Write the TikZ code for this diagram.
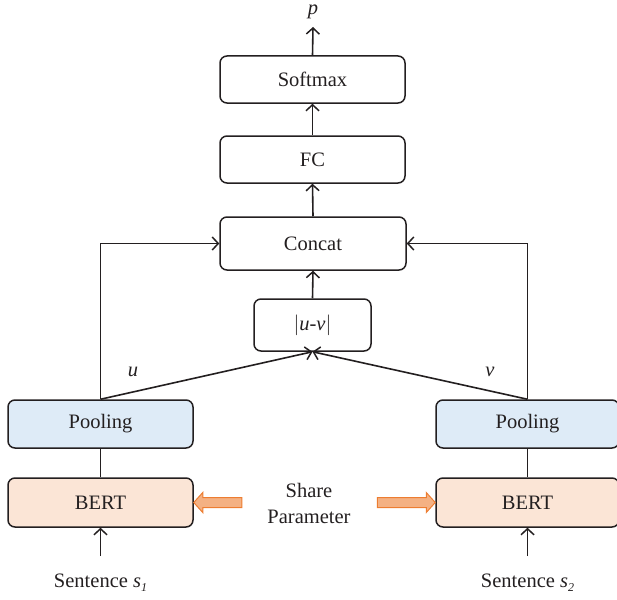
\documentclass[tikz,border=0pt]{standalone}
\usepackage{fontspec}
\setmainfont{Liberation Serif}
\usetikzlibrary{arrows.meta}
\definecolor{poolfill}{HTML}{DEEBF7}
\definecolor{bertfill}{HTML}{FBE5D6}
\definecolor{orfill}{HTML}{F4B183}
\definecolor{ordraw}{HTML}{ED7D31}
\definecolor{ink}{HTML}{231F20}
\tikzset{
  blk/.style={draw=ink, line width=1.5pt, rounded corners=7pt, inner sep=0pt, font=\fontsize{20.5}{22}\selectfont, text=ink},
  conn/.style={draw=ink, line width=1.6pt},
  arr/.style={conn, -{Straight Barb[length=6pt,width=13pt,line width=1.5pt]}},
  lbl/.style={font=\fontsize{20.5}{22}\selectfont, text=ink, inner sep=0pt},
  orarrow/.style={fill=orfill, draw=ordraw, line width=1pt, line join=miter}
}
\begin{document}
\begin{tikzpicture}[x=1pt,y=-1pt]
\useasboundingbox (0,0) rectangle (617,599);
\node[blk, minimum width=185pt, minimum height=47pt] (softmax) at (312.5,79.5) {Softmax};
\node[blk, minimum width=185pt, minimum height=47pt] (fc) at (312.5,159.5) {FC};
\node[blk, minimum width=186pt, minimum height=53pt] (concat) at (313,243.5) {Concat};
\node[blk, minimum width=117pt, minimum height=52pt] (absdiff) at (312.5,325) {$|$\textit{u}-\textit{v}$|$};
\node[blk, fill=poolfill, minimum width=185pt, minimum height=48pt] (poolL) at (100.5,424) {Pooling};
\node[blk, fill=poolfill, minimum width=183pt, minimum height=48pt] (poolR) at (527.5,424) {Pooling};
\node[blk, fill=bertfill, minimum width=185pt, minimum height=49pt] (bertL) at (100.5,502.5) {BERT};
\node[blk, fill=bertfill, minimum width=183pt, minimum height=49pt] (bertR) at (527.5,502.5) {BERT};
\node[lbl] (p) at (313,12) {\textit{p}};
\node[lbl, anchor=base] (sentL) at (100.5,587) {Sentence \textit{s}\raisebox{-4pt}{\fontsize{12}{12}\selectfont\textit{1}}};
\node[lbl, anchor=base] (sentR) at (527.5,587) {Sentence \textit{s}\raisebox{-4pt}{\fontsize{12}{12}\selectfont\textit{2}}};
\node[lbl] (u) at (133,372) {\textit{u}};
\node[lbl] (v) at (490,372) {\textit{v}};
\node[lbl, align=center] (share) at (309,503) {Share\\[4pt]Parameter};
\coordinate (pend) at (313,27);
\coordinate (sLtop) at (100.5,556);
\coordinate (sRtop) at (527.5,556);
% vertical chain
\draw[arr] (softmax.north) -- (pend);
\draw[arr] (fc.north) -- (softmax.south);
\draw[arr] (concat.north) -- (fc.south);
\draw[arr] (absdiff.north) -- (concat.south);
\draw[arr] (poolL.north) -- (absdiff.south);
\draw[arr] (poolR.north) -- (absdiff.south);
\draw[arr] (poolL.north) |- (concat.west);
\draw[arr] (poolR.north) |- (concat.east);
\draw[conn] (bertL.north) -- (poolL.south);
\draw[conn] (bertR.north) -- (poolR.south);
\draw[arr] (sLtop) -- (bertL.south);
\draw[arr] (sRtop) -- (bertR.south);
% orange arrows
\draw[orarrow] (bertL.east) -- ++(9,-10) -- ++(0,5) -- ++(39,0) -- ++(0,10) -- ++(-39,0) -- ++(0,5) -- cycle;
\draw[orarrow] (bertR.west) -- ++(-9,-10) -- ++(0,5) -- ++(-49,0) -- ++(0,10) -- ++(49,0) -- ++(0,5) -- cycle;
\end{tikzpicture}
\end{document}
